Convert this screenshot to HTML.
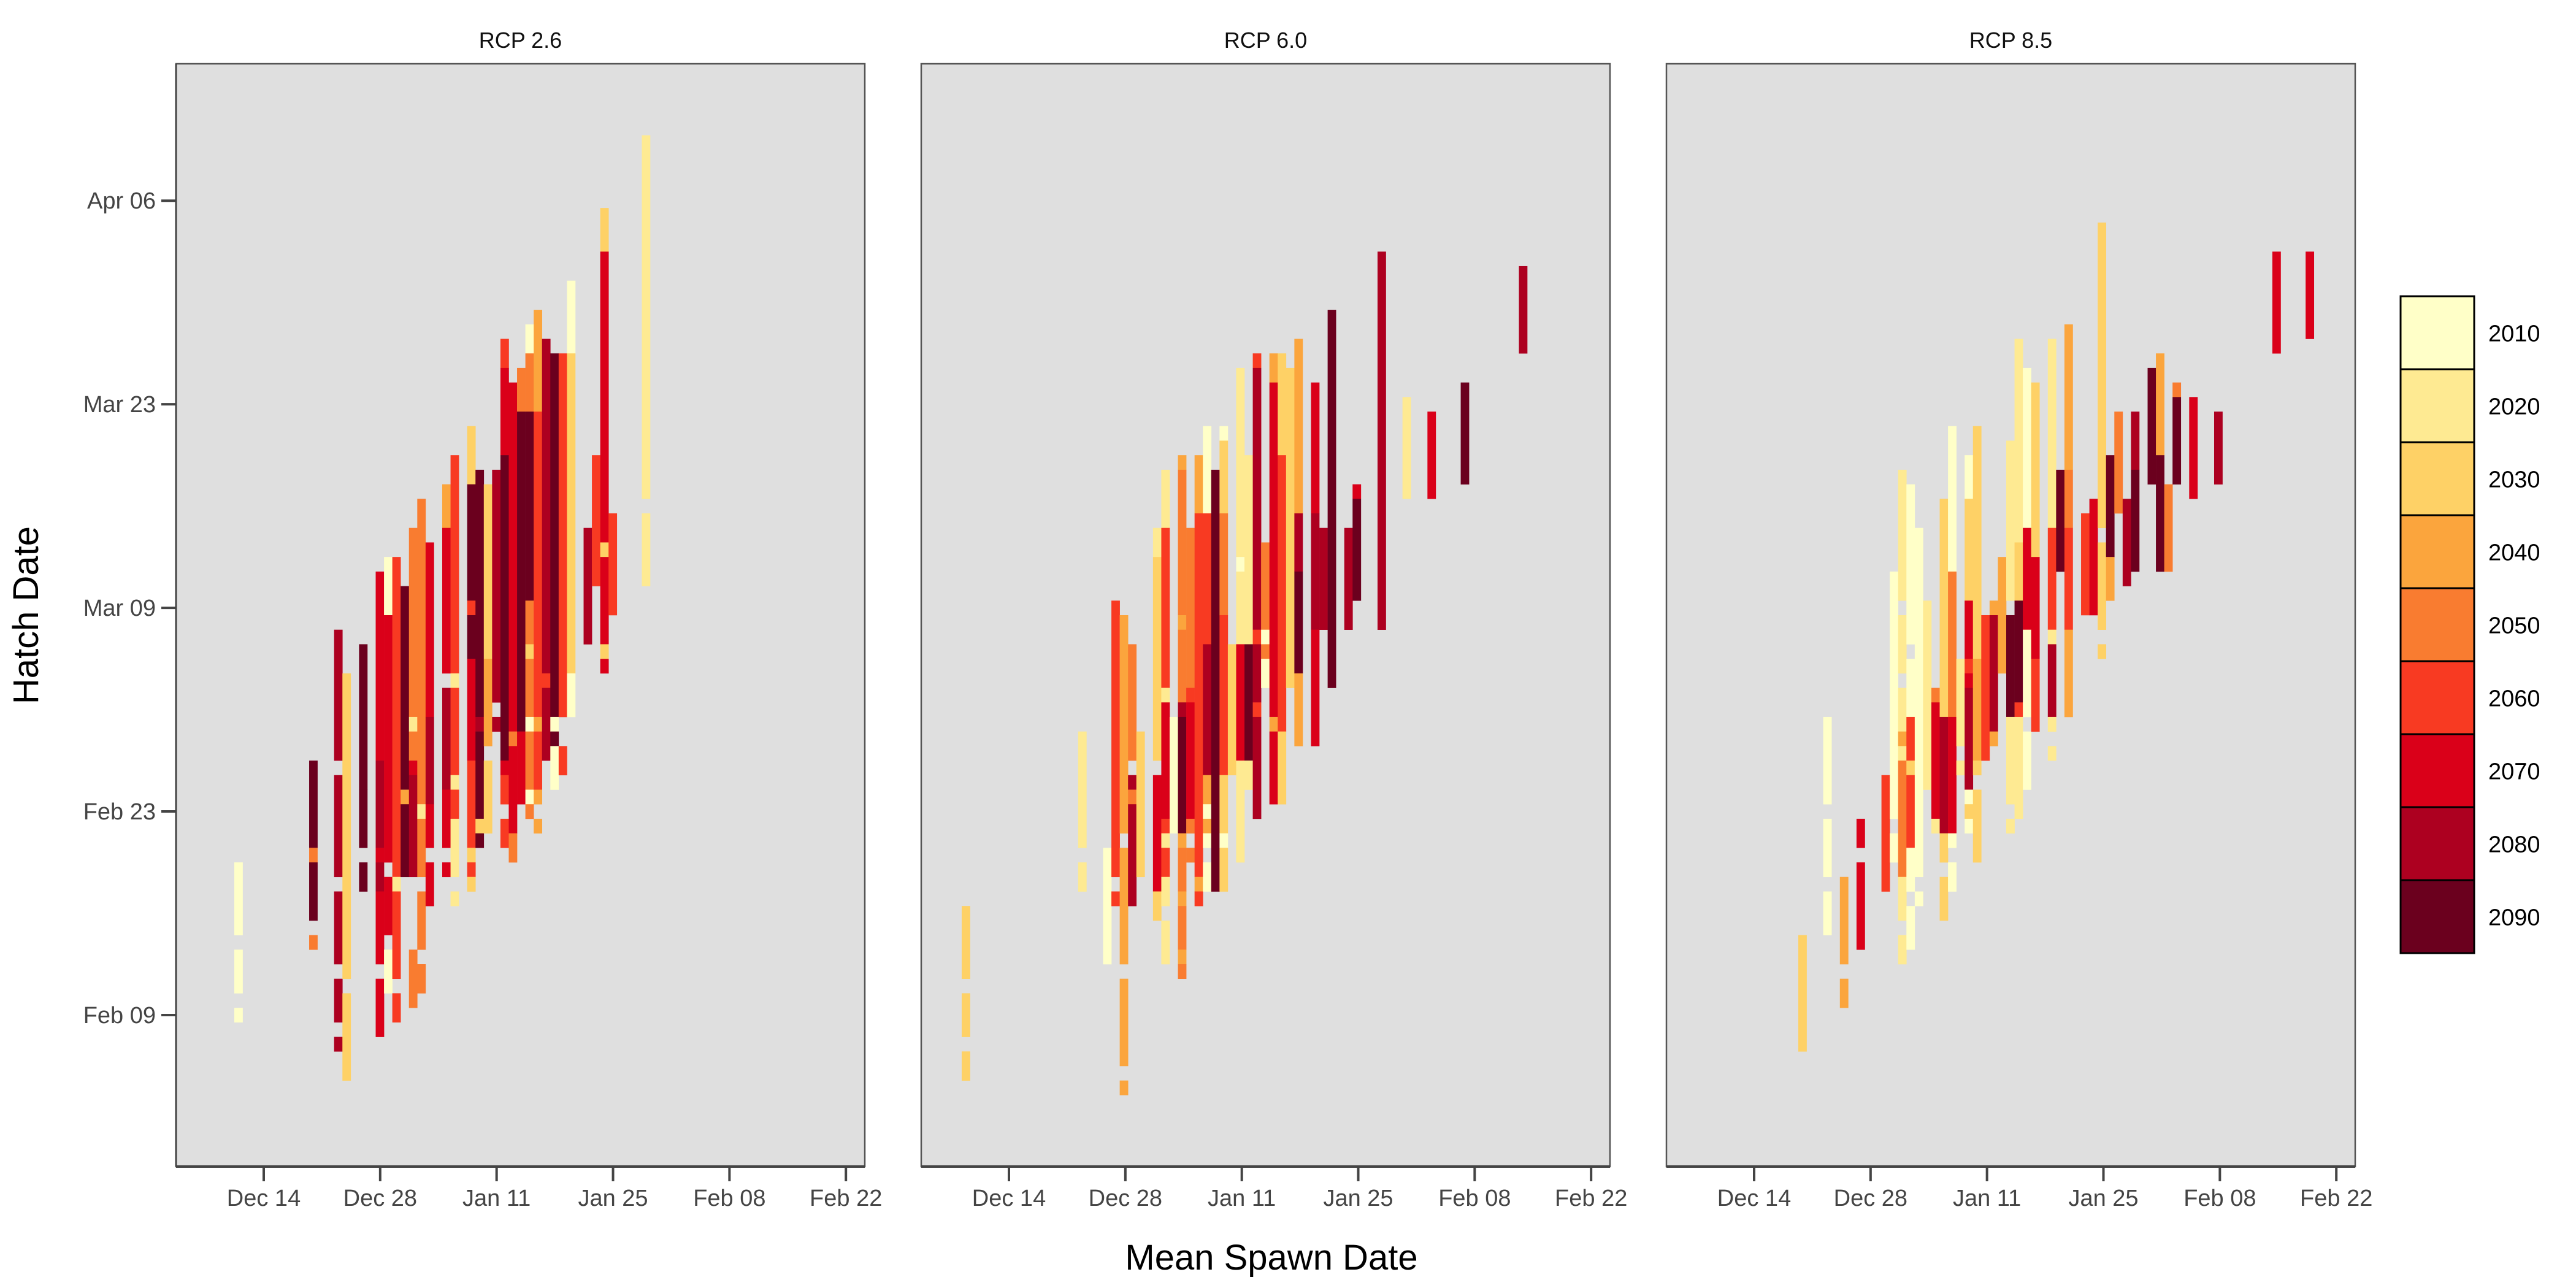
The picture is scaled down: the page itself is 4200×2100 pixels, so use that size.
<!DOCTYPE html>
<html><head><meta charset="utf-8"><style>
html,body{margin:0;padding:0;background:#fff;}
svg{display:block;font-family:"Liberation Sans",Arial,sans-serif;}
</style></head><body>
<svg id="chart" width="4200" height="2100" viewBox="0 0 4200 2100" xmlns="http://www.w3.org/2000/svg">
<rect width="4200" height="2100" fill="#fff"/>
<g id="panels"></g>
<text x="0" y="0" transform="translate(62,1003) rotate(-90)" text-anchor="middle" font-size="58" fill="#000">Hatch Date</text>
<text x="2073" y="2070" text-anchor="middle" font-size="58" fill="#000">Mean Spawn Date</text>
<g id="legend"></g>
</svg>
<script>
const NS="http://www.w3.org/2000/svg";
const decades=["2010","2020","2030","2040","2050","2060","2070","2080","2090"];
const palette=["#FFFFC8","#FEEA92","#FED166","#FBA53D","#F97C30","#F83A22","#DA0019","#AD0020","#6B001E"];
const panelTitles=["RCP 2.6","RCP 6.0","RCP 8.5"];
const xTickLabels=["Dec 14","Dec 28","Jan 11","Jan 25","Feb 08","Feb 22"];
const xTickDays=[0,14,28,42,56,70];
const yTickLabels=["Feb 09","Feb 23","Mar 09","Mar 23","Apr 06"];
const yTickDays=[0,14,28,42,56];
// column start day (left edge, days after Dec 14) for column index 0
const colStart=[-3.54,-5.68,5.31];
// segments: [column, topRow, bottomRow, decadeIndex]; rows = hatch day after Feb 09
const rcp26=[
[0,10,6,0],[0,4,2,0],[0,0,0,0],
[9,17,12,8],[9,11,11,4],[9,10,7,8],[9,5,5,4],
[12,26,18,7],[12,16,10,7],[12,8,4,7],[12,2,0,7],[12,-2,-2,7],
[13,23,3,2],[13,1,-4,2],
[15,25,16,8],[15,15,12,8],[15,10,9,8],
[17,30,18,6],[17,17,12,7],[17,11,11,6],[17,10,9,7],[17,8,4,6],[17,2,-1,6],
[18,31,28,0],[18,27,11,6],[18,9,6,6],[18,4,2,0],
[19,31,10,5],[19,9,9,1],[19,8,3,5],[19,1,0,5],
[20,29,16,8],[20,15,15,3],[20,14,10,8],
[21,33,21,4],[21,20,20,1],[21,19,18,4],[21,17,17,6],[21,16,10,7],[21,4,1,4],
[22,35,15,4],[22,14,14,1],[22,13,10,4],[22,8,5,4],[22,3,2,4],
[23,32,21,6],[23,20,15,7],[23,14,12,6],[23,10,8,6],
[25,36,34,3],[25,33,24,6],[25,22,16,7],[25,15,12,6],[25,10,10,6],
[26,38,24,5],[26,23,23,1],[26,22,17,5],[26,16,16,1],[26,15,14,5],[26,13,10,1],[26,8,8,1],
[28,40,37,2],[28,36,29,8],[28,28,28,5],[28,27,25,8],[28,24,18,6],[28,17,12,5],[28,11,11,2],[28,10,10,5],[28,9,9,2],
[29,37,21,8],[29,20,20,7],[29,19,14,8],[29,13,13,2],[29,12,12,8],
[30,36,25,2],[30,24,19,3],[30,17,13,2],
[31,37,22,7],[31,20,20,7],
[32,46,45,5],[32,44,39,6],[32,38,18,8],[32,17,17,6],[32,16,15,5],[32,13,12,5],
[33,43,20,6],[33,19,19,4],[33,18,13,6],[33,12,11,4],
[34,44,42,4],[34,41,20,8],[34,19,15,6],
[35,47,46,0],[35,45,42,4],[35,41,29,8],[35,28,26,4],[35,25,25,2],[35,24,21,4],[35,20,20,0],[35,19,16,4],[35,15,15,0],[35,14,14,4],
[36,48,42,3],[36,41,21,5],[36,20,20,3],[36,19,16,5],[36,15,15,3],[36,13,13,3],
[37,46,24,7],[37,23,23,5],[37,22,18,7],
[38,45,21,8],[38,20,20,0],[38,19,19,8],[38,18,17,0],[38,16,16,0],
[39,45,21,5],[39,18,17,5],
[40,50,46,0],[40,45,24,2],[40,23,21,0],
[42,33,26,7],[43,38,30,5],
[44,55,53,2],[44,52,33,6],[44,32,32,2],[44,31,26,6],[44,25,25,2],[44,24,24,6],
[45,34,28,5],
[49,60,36,1],[49,34,30,1]
];
const rcp60=[
[0,7,3,2],[0,1,-1,2],[0,-3,-4,2],
[14,19,12,1],[14,10,9,1],
[17,11,4,0],
[18,28,26,5],[18,25,17,5],[18,16,10,5],[18,8,8,5],
[19,27,13,3],[19,11,4,3],[19,2,-3,3],[19,-5,-5,3],
[20,25,18,4],[20,16,16,7],[20,15,15,4],[20,14,8,7],
[21,19,10,2],
[23,33,32,1],[23,31,18,2],[23,16,9,6],[23,8,7,2],
[24,37,34,1],[24,33,23,5],[24,22,22,1],[24,21,14,6],[24,13,13,5],[24,12,12,1],[24,11,10,5],[24,9,8,1],[24,6,4,1],
[25,20,13,0],
[26,38,38,3],[26,37,28,4],[26,27,27,3],[26,26,22,4],[26,21,21,7],[26,20,13,8],[26,12,12,3],[26,11,9,4],[26,8,8,3],[26,7,5,4],[26,4,4,3],[26,3,3,4],
[27,33,23,4],[27,22,22,5],[27,21,14,6],[27,13,13,4],[27,11,11,4],
[28,38,35,3],[28,34,10,5],[28,9,9,3],[28,8,8,5],
[29,40,35,0],[29,34,26,5],[29,25,17,7],[29,16,15,3],[29,14,14,0],[29,13,13,3],[29,12,12,0],[29,10,9,0],
[30,37,9,8],
[31,40,40,0],[31,39,35,2],[31,34,28,4],[31,27,17,5],[31,16,13,2],[31,12,12,0],[31,11,9,2],
[32,25,17,2],
[33,44,32,1],[33,31,31,0],[33,30,26,1],[33,25,18,6],[33,17,14,1],[33,13,11,1],
[34,38,26,1],[34,25,18,8],[34,17,16,1],
[35,45,45,5],[35,44,27,7],[35,26,26,5],[35,25,22,7],[35,21,21,5],[35,20,14,7],
[36,32,27,4],[36,26,26,0],[36,25,25,4],[36,24,23,0],
[37,45,44,3],[37,43,21,6],[37,20,20,3],[37,19,15,6],
[38,45,39,2],[38,38,20,5],[38,19,15,2],
[39,44,23,2],
[40,46,35,3],[40,34,31,7],[40,30,24,8],[40,23,19,3],
[42,43,35,6],[42,34,27,7],[42,26,19,6],
[43,33,27,7],
[44,48,23,8],
[46,33,27,7],
[47,36,36,6],[47,35,29,8],
[50,52,27,7],
[53,42,36,1],
[56,41,36,6],
[60,43,37,8],
[67,51,46,7]
];
const rcp85=[
[0,5,-2,2],
[3,20,15,0],[3,13,10,0],[3,8,6,0],
[5,9,4,3],[5,2,1,3],
[7,13,12,6],[7,10,5,6],
[10,16,9,5],
[11,30,14,0],[11,12,11,0],
[12,37,29,1],[12,27,24,1],[12,22,20,1],[12,19,19,3],[12,18,18,1],[12,17,10,4],[12,9,7,1],[12,5,4,1],
[13,36,26,0],[13,24,21,0],[13,20,18,5],[13,17,17,2],[13,16,12,5],[13,11,9,0],[13,7,5,0],
[14,33,10,0],[14,8,8,0],
[15,28,16,1],
[16,22,22,4],[16,21,14,6],[16,13,13,1],
[17,35,21,2],[17,20,13,7],[17,12,11,2],[17,9,7,2],
[18,40,31,0],[18,30,21,4],[18,20,13,6],[18,12,12,0],[18,10,9,0],
[19,24,19,1],[19,17,17,1],
[20,38,36,0],[20,35,29,2],[20,28,25,6],[20,24,24,5],[20,23,23,6],[20,22,16,7],[20,15,15,0],[20,14,14,2],[20,13,13,0],
[21,40,25,2],[21,24,18,3],[21,17,17,2],[21,15,11,2],
[22,27,18,5],
[23,28,28,3],[23,27,20,7],[23,19,19,3],
[24,31,24,3],
[25,39,29,1],[25,27,21,8],[25,20,15,1],[25,13,13,1],
[26,46,33,1],[26,32,29,2],[26,28,22,8],[26,21,21,5],[26,20,14,1],
[27,44,34,0],[27,33,27,6],[27,26,21,0],[27,19,16,0],
[28,43,32,2],[28,31,25,6],[28,24,20,5],
[30,46,34,1],[30,33,27,5],[30,26,26,1],[30,25,21,7],[30,20,20,1],[30,18,18,1],
[31,37,31,8],
[32,47,38,3],[32,37,34,4],[32,33,27,5],[32,26,21,3],
[34,34,28,5],
[35,35,28,6],
[36,54,34,2],[36,32,27,2],[36,25,25,2],
[37,38,32,8],[37,31,29,3],
[38,41,35,4],
[39,35,30,7],
[40,41,38,7],[40,37,31,8],
[42,44,37,8],
[43,45,39,3],[43,38,31,8],
[44,36,31,4],
[45,43,43,4],[45,42,37,8],
[47,42,36,6],
[50,41,37,7],
[57,52,46,6],
[61,52,47,6]
];
const panelData=[rcp26,rcp60,rcp85];
const panelNames=["rcp-2-6","rcp-6-0","rcp-8-5"];

const panelLefts=[287,1502,2717], panelW=1123, panelTop=104, panelBottom=1902;
const dayW=13.56, x0=143; // x offset of Dec 14 within panel
const yZero=1655, dayH=23.71;
function xScale(p,day){return panelLefts[p]+x0+day*dayW;}
function yScale(h){return yZero-h*dayH;}

const root=document.getElementById('panels');
function mk(tag,attrs,parent){const e=document.createElementNS(NS,tag);for(const k in attrs)e.setAttribute(k,attrs[k]);parent.appendChild(e);return e;}

panelData.forEach((segs,p)=>{
  const g=mk('g',{},root);
  
  
  const L=panelLefts[p];
  const bg=mk('rect',{x:L,y:panelTop,width:panelW,height:panelBottom-panelTop,fill:'#DFDFDF'},g);
  
  
  const cells=mk('g',{},g);
  
  
  segs.forEach(s=>{
    const day=colStart[p]+s[0];
    const xa=xScale(p,day), xb=xScale(p,day+1);
    const ya=yScale(s[1]+0.5), yb=yScale(s[2]-0.5);
    const r=mk('rect',{x:xa.toFixed(2),y:ya.toFixed(2),width:(xb-xa+0.3).toFixed(2),height:(yb-ya+0.3).toFixed(2),fill:palette[s[3]]},cells);
    
    
  });
  const border=mk('rect',{x:L,y:panelTop,width:panelW,height:panelBottom-panelTop,fill:'none',stroke:'#555',"stroke-width":2.5},g);
  
  
  const ax=mk('line',{x1:L,x2:L+panelW,y1:panelBottom,y2:panelBottom,stroke:'#444',"stroke-width":4},g);
  
  
  const t=mk('text',{x:L+panelW/2,y:78,"text-anchor":"middle","font-size":36,fill:'#111'},g);
  t.textContent=panelTitles[p];
  
  
  xTickDays.forEach((d,i)=>{
    const x=xScale(p,d);
    const tk=mk('line',{x1:x,x2:x,y1:panelBottom,y2:panelBottom+24,stroke:'#444',"stroke-width":4},g);
    
    
    const lb=mk('text',{x:x,y:1966,"text-anchor":"middle","font-size":38,fill:'#444'},g);
    lb.textContent=xTickLabels[i];
    
    
  });
  if(p===0){
    const ay=mk('line',{x1:L,x2:L,y1:panelTop,y2:panelBottom,stroke:'#444',"stroke-width":3},g);
    
    
    yTickDays.forEach((h,i)=>{
      const y=yScale(h);
      const tk=mk('line',{x1:L-24,x2:L,y1:y,y2:y,stroke:'#444',"stroke-width":4},g);
      
      
      const lb=mk('text',{x:L-33,y:y+13,"text-anchor":"end","font-size":38,fill:'#444'},g);
      lb.textContent=yTickLabels[i];
      
      
    });
  }
});

const leg=document.getElementById('legend');
const lx=3914, ly=483, lw=120, lh=119;
decades.forEach((d,i)=>{
  const r=mk('rect',{x:lx,y:ly+i*lh,width:lw,height:lh,fill:palette[i],stroke:'#000',"stroke-width":3},leg);
  
  
  const t=mk('text',{x:4057,y:ly+i*lh+lh/2+14,"font-size":38,fill:'#000'},leg);
  t.textContent=d;
  
  
});
</script>
</body></html>
